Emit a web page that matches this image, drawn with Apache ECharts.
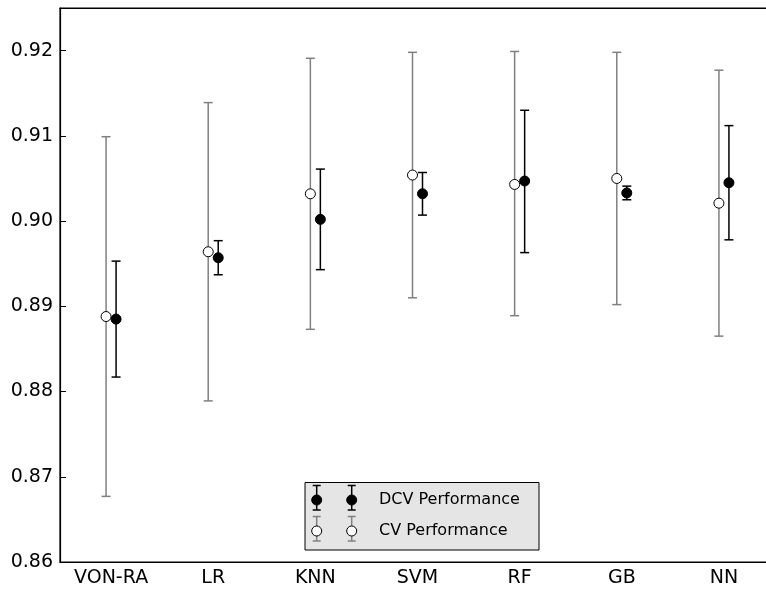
<!DOCTYPE html>
<html>
<head>
<meta charset="utf-8">
<script src="https://cdn.jsdelivr.net/npm/echarts@6/dist/echarts.min.js"></script>
<style>
  html, body { margin: 0; padding: 0; background: #fff; }
  #chart { width: 766px; height: 590px; }
</style>
</head>
<body>
<div id="chart"></div>
<script>
// Model names along the x axis
const models = ['VON-RA', 'LR', 'KNN', 'SVM', 'RF', 'GB', 'NN'];

// Cross-validation performance: mean and error-bar bounds
const cvMean = [0.8888, 0.8964, 0.9032, 0.9054, 0.9043, 0.9050, 0.9021];
const cvLow  = [0.8677, 0.8789, 0.8873, 0.8910, 0.8889, 0.8902, 0.8865];
const cvHigh = [0.9099, 0.9139, 0.9191, 0.9198, 0.9199, 0.9198, 0.9177];

// Double cross-validation performance: mean and error-bar bounds
const dcvMean = [0.8885, 0.8957, 0.9002, 0.9032, 0.9047, 0.9033, 0.9045];
const dcvLow  = [0.8817, 0.8937, 0.8943, 0.9007, 0.8963, 0.9025, 0.8978];
const dcvHigh = [0.8953, 0.8977, 0.9061, 0.9057, 0.9130, 0.9041, 0.9112];

// y axis tick values
const yTicks = [0.86, 0.87, 0.88, 0.89, 0.90, 0.91, 0.92];

const FONT = 'DejaVu Sans';
const GRAY = '#808080';
const SHIFT = 5;      // horizontal offset of each series from the category centre
const CAP = 4.5;      // half width of the error-bar caps

function errorBarRenderer(shift, color) {
  return function (params, api) {
    const lo = api.coord([api.value(0), api.value(1)]);
    const hi = api.coord([api.value(0), api.value(2)]);
    const x = lo[0] + shift;
    const style = { stroke: color, lineWidth: 1.5 };
    return {
      type: 'group',
      children: [
        { type: 'line', shape: { x1: x, y1: lo[1], x2: x, y2: hi[1] }, style },
        { type: 'line', shape: { x1: x - CAP, y1: hi[1], x2: x + CAP, y2: hi[1] }, style },
        { type: 'line', shape: { x1: x - CAP, y1: lo[1], x2: x + CAP, y2: lo[1] }, style }
      ]
    };
  };
}

// Legend sample: two markers with error bars per row
function legendSample(cx, cy, filled) {
  const barColor = filled ? '#000' : GRAY;
  const s = { stroke: barColor, lineWidth: 1.5 };
  const top = cy - 14.5, bot = cy + 10;
  return [
    { type: 'line', shape: { x1: cx, y1: top, x2: cx, y2: bot }, style: s, z: 101 },
    { type: 'line', shape: { x1: cx - 4, y1: top, x2: cx + 4, y2: top }, style: s, z: 101 },
    { type: 'line', shape: { x1: cx - 4, y1: bot, x2: cx + 4, y2: bot }, style: s, z: 101 },
    { type: 'circle', shape: { cx: cx, cy: cy, r: 5 },
      style: { fill: filled ? '#000' : '#fff', stroke: '#000', lineWidth: 1 }, z: 102 }
  ];
}

const legendRows = [
  { label: 'DCV Performance', y: 500, filled: true },
  { label: 'CV Performance', y: 531, filled: false }
];

const legendGraphics = [
  { type: 'rect', shape: { x: 305, y: 482.5, width: 234, height: 67.5 },
    style: { fill: '#e5e5e5', stroke: '#000', lineWidth: 1 }, z: 100 }
];
legendRows.forEach(r => {
  legendGraphics.push(...legendSample(316.7, r.y, r.filled));
  legendGraphics.push(...legendSample(351.7, r.y, r.filled));
  legendGraphics.push({
    type: 'text', x: 379, y: r.y, z: 103,
    style: { text: r.label, font: '16px ' + FONT, fill: '#000', textVerticalAlign: 'middle' }
  });
});

const chart = echarts.init(document.getElementById('chart'));
chart.setOption({
  animation: false,
  backgroundColor: '#fff',
  grid: { left: 60, top: 8, width: 715, height: 554, show: true,
          outerBoundsMode: 'none', containLabel: false,
          borderColor: '#000', borderWidth: 1.2, backgroundColor: 'transparent' },
  xAxis: [
    {
      type: 'category', data: models, position: 'bottom', boundaryGap: true,
      axisLine: { lineStyle: { color: '#000', width: 1.2 } },
      axisTick: { inside: true, alignWithLabel: true, length: 6, lineStyle: { color: '#000' } },
      axisLabel: { color: '#000', fontFamily: FONT, fontSize: 19, margin: 7 },
      splitLine: { show: false }
    },
    {
      type: 'category', data: models, position: 'top', boundaryGap: true,
      axisLine: { lineStyle: { color: '#000', width: 1.2 } },
      axisTick: { inside: true, alignWithLabel: true, length: 6, lineStyle: { color: '#000' } },
      axisLabel: { show: false },
      splitLine: { show: false }
    }
  ],
  yAxis: {
    type: 'value', min: 0.86, max: 0.925, interval: 0.01,
    axisLine: { show: true, lineStyle: { color: '#000', width: 1.2 } },
    axisTick: { show: true, inside: true, length: 6, lineStyle: { color: '#000' } },
    axisLabel: {
      color: '#000', fontFamily: FONT, fontSize: 19, margin: 7,
      formatter: v => {
        const t = yTicks.find(k => Math.abs(k - v) < 1e-6);
        return t === undefined ? '' : t.toFixed(2);
      }
    },
    splitLine: { show: false }
  },
  series: [
    {
      name: 'CV Performance error', type: 'custom', z: 1,
      renderItem: errorBarRenderer(-SHIFT, GRAY),
      data: models.map((m, i) => [i, cvLow[i], cvHigh[i]]),
      encode: { x: 0, y: [1, 2] }, silent: true
    },
    {
      name: 'CV Performance', type: 'scatter', z: 2,
      symbol: 'circle', symbolSize: 10, symbolOffset: [-SHIFT, 0],
      itemStyle: { color: '#fff', borderColor: '#000', borderWidth: 1, opacity: 1 },
      data: models.map((m, i) => [i, cvMean[i]])
    },
    {
      name: 'DCV Performance error', type: 'custom', z: 3,
      renderItem: errorBarRenderer(SHIFT, '#000'),
      data: models.map((m, i) => [i, dcvLow[i], dcvHigh[i]]),
      encode: { x: 0, y: [1, 2] }, silent: true
    },
    {
      name: 'DCV Performance', type: 'scatter', z: 4,
      symbol: 'circle', symbolSize: 10, symbolOffset: [SHIFT, 0],
      itemStyle: { color: '#000', borderColor: '#000', borderWidth: 1, opacity: 1 },
      data: models.map((m, i) => [i, dcvMean[i]])
    }
  ],
  graphic: legendGraphics
});
</script>
</body>
</html>
